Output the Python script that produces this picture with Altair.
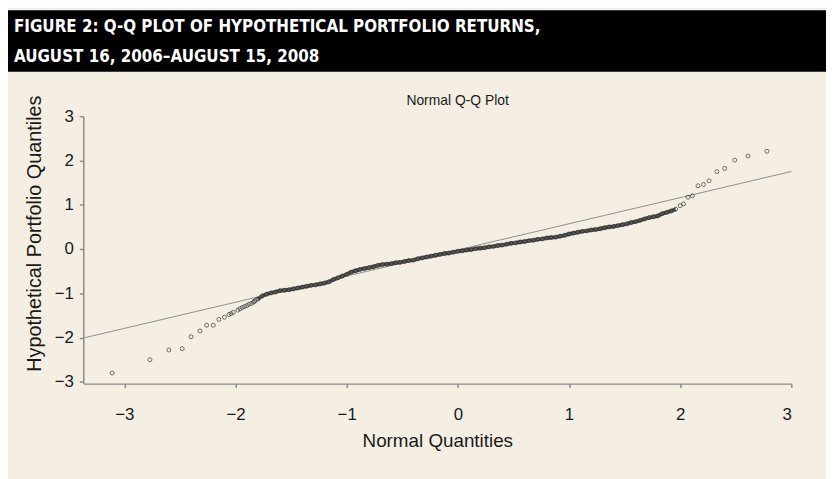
import altair as alt
import pandas as pd

# ---- data ----
# lower tail points (normal quantile, portfolio quantile)
tail_lo_x = [-3.11, -2.77, -2.60, -2.48, -2.40, -2.32, -2.26, -2.20, -2.15, -2.10, -2.06, -2.04,
             -2.02, -1.98, -1.96, -1.94, -1.92, -1.90, -1.88, -1.86, -1.84, -1.83, -1.82]
tail_lo_y = [-2.80, -2.50, -2.28, -2.25, -1.98, -1.85, -1.72, -1.72, -1.59, -1.54, -1.48, -1.46,
             -1.43, -1.38, -1.35, -1.32, -1.30, -1.28, -1.25, -1.23, -1.20, -1.18, -1.16]

# dense central band
mid_x = [-1.80, -1.76, -1.72, -1.68, -1.64, -1.60, -1.56, -1.52, -1.48, -1.44, -1.40, -1.36,
         -1.32, -1.28, -1.24, -1.20, -1.16, -1.12, -1.08, -1.04, -1.00, -0.96, -0.92, -0.88,
         -0.84, -0.80, -0.76, -0.72, -0.68, -0.64, -0.60, -0.56, -0.52, -0.48, -0.44, -0.40,
         -0.36, -0.32, -0.28, -0.24, -0.20, -0.16, -0.12, -0.08, -0.04, 0.00, 0.04, 0.08,
         0.12, 0.16, 0.20, 0.24, 0.28, 0.32, 0.36, 0.40, 0.44, 0.48, 0.52, 0.56,
         0.60, 0.64, 0.68, 0.72, 0.76, 0.80, 0.84, 0.88, 0.92, 0.96, 1.00, 1.04,
         1.08, 1.12, 1.16, 1.20, 1.24, 1.28, 1.32, 1.36, 1.40, 1.44, 1.48, 1.52,
         1.56, 1.60, 1.64, 1.68, 1.72, 1.76, 1.80, 1.84, 1.88, 1.92, 1.96]
mid_y = [-1.13, -1.06, -1.02, -0.99, -0.97, -0.94, -0.93, -0.92, -0.90, -0.88, -0.86, -0.84,
         -0.82, -0.81, -0.79, -0.77, -0.74, -0.69, -0.65, -0.61, -0.57, -0.52, -0.49, -0.46,
         -0.44, -0.42, -0.40, -0.37, -0.35, -0.34, -0.33, -0.31, -0.30, -0.28, -0.26, -0.25,
         -0.22, -0.20, -0.18, -0.16, -0.14, -0.12, -0.10, -0.09, -0.07, -0.05, -0.04, -0.02,
         -0.01, 0.01, 0.02, 0.03, 0.05, 0.06, 0.08, 0.09, 0.11, 0.13, 0.14, 0.16,
         0.17, 0.19, 0.20, 0.22, 0.23, 0.25, 0.26, 0.27, 0.29, 0.31, 0.34, 0.36,
         0.38, 0.40, 0.41, 0.43, 0.44, 0.46, 0.48, 0.50, 0.51, 0.53, 0.55, 0.57,
         0.60, 0.62, 0.65, 0.68, 0.71, 0.73, 0.75, 0.80, 0.83, 0.86, 0.90]

# upper tail points
tail_hi_x = [2.00, 2.03, 2.07, 2.11, 2.16, 2.21, 2.26, 2.33, 2.40, 2.49, 2.61, 2.78]
tail_hi_y = [0.98, 1.02, 1.17, 1.20, 1.43, 1.46, 1.54, 1.75, 1.82, 2.01, 2.10, 2.21]

# reference (q-q) line end points
ref_x = [-3.37, 3.03]
ref_y = [-2.01, 1.77]

axis_ticks = [-3, -2, -1, 0, 1, 2, 3]

title_lines = ["FIGURE 2: Q-Q PLOT OF HYPOTHETICAL PORTFOLIO RETURNS,",
               "AUGUST 16, 2006\u2013AUGUST 15, 2008"]
plot_title = "Normal Q-Q Plot"

# ---- build tables ----
pts = pd.DataFrame({
    "x": tail_lo_x + mid_x + tail_hi_x,
    "y": tail_lo_y + mid_y + tail_hi_y,
})
band = pd.DataFrame({"x": mid_x, "y": mid_y})
ref = pd.DataFrame({"x": ref_x, "y": ref_y})

FONT = "Liberation Sans, Arial, Helvetica, sans-serif"
TFONT = "Liberation Sans Narrow, DejaVu Sans Condensed, Arial Narrow, sans-serif"

xscale = alt.Scale(domain=[-3.37, 3.0], nice=False, zero=False)
yscale = alt.Scale(domain=[-3.04, 3.0], nice=False, zero=False)

xaxis = alt.Axis(values=axis_ticks, title="Normal Quantities", format="d",
                 grid=False, domainColor="#8c8c8c", domainWidth=1.5, tickColor="#8c8c8c",
                 tickWidth=1.5, tickSize=4, labelPadding=19, labelFontSize=17,
                 labelColor="#1a1a1a", titleFontSize=19, titleFontWeight="normal",
                 titleColor="#1a1a1a", titlePadding=9, labelFont=FONT, titleFont=FONT)
yaxis = alt.Axis(values=axis_ticks, title="Hypothetical Portfolio Quantiles", format="d",
                 grid=False, domainColor="#8c8c8c", domainWidth=1.5, tickColor="#8c8c8c",
                 tickWidth=1.5, tickSize=4, labelPadding=6, labelFontSize=17,
                 labelColor="#1a1a1a", titleFontSize=20, titleFontWeight="normal",
                 titleColor="#1a1a1a", titleX=-49, titleY=118, titleBaseline="middle",
                 titleAlign="center", labelFont=FONT, titleFont=FONT)

one = pd.DataFrame({"k": [0]})

band_bg = alt.Chart(one).mark_rect(color="black").encode(
    x=alt.value(-76), x2=alt.value(750), y=alt.value(-107), y2=alt.value(-45))

t1 = alt.Chart(one).mark_text(align="left", baseline="alphabetic", color="white",
                              font=TFONT, fontSize=17, fontWeight="bold").encode(
    x=alt.value(-70), y=alt.value(-85), text=alt.value(title_lines[0]))
t2 = alt.Chart(one).mark_text(align="left", baseline="alphabetic", color="white",
                              font=TFONT, fontSize=17, fontWeight="bold").encode(
    x=alt.value(-70), y=alt.value(-55), text=alt.value(title_lines[1]))

t_plot = alt.Chart(one).mark_text(align="center", baseline="alphabetic", color="#1a1a1a",
                                  font=FONT, fontSize=14).encode(
    x=alt.value(378), y=alt.value(-11), text=alt.value(plot_title))

ref_line = alt.Chart(ref).mark_line(color="#8f8f8f", strokeWidth=1, clip=True).encode(
    x=alt.X("x:Q", scale=xscale, axis=xaxis),
    y=alt.Y("y:Q", scale=yscale, axis=yaxis))

band_line = alt.Chart(band).mark_line(color="#555555", strokeWidth=4).encode(
    x=alt.X("x:Q", scale=xscale), y=alt.Y("y:Q", scale=yscale))

points = alt.Chart(pts).mark_point(shape="circle", filled=False, size=16,
                                   strokeWidth=0.9, color="#222222").encode(
    x=alt.X("x:Q", scale=xscale), y=alt.Y("y:Q", scale=yscale))

chart = alt.layer(band_bg, t1, t2, t_plot, ref_line, band_line, points).properties(
    width=715, height=270,
    autosize=alt.AutoSizeParams(type="none"),
    padding={"left": 76, "top": 107, "right": 35, "bottom": 94},
).configure(background="#F4EFE2").configure_view(stroke=None)

chart.save("out.html", embed_options={"renderer": "svg", "actions": False})
